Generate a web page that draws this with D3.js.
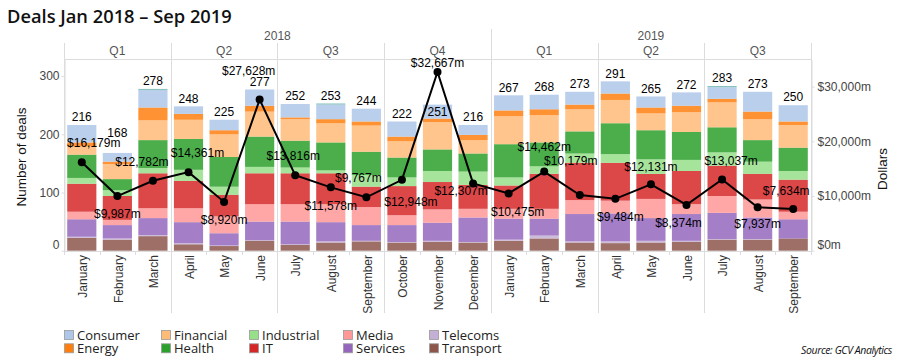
<!DOCTYPE html>
<html><head><meta charset="utf-8">
<script src="https://cdn.jsdelivr.net/npm/d3@7"></script>
<style>
html,body{margin:0;padding:0;background:#fff;}
svg{display:block;}
</style></head>
<body>
<script>
// ---------- DATA ----------
const months = ["January","February","March","April","May","June","July","August","September","October","November","December",
                "January","February","March","April","May","June","July","August","September"];
const years = ["2018","2019"];
const quarters = ["Q1","Q2","Q3","Q4","Q1","Q2","Q3"];
const sectors = ["Transport","Telecoms","Services","Media","IT","Industrial","Health","Financial","Energy","Consumer","Other"];

const transport  = [22,19,25,11,8,17,10,14,16,14,15,14,17,21,14,13,14,15,19,19,21];
const telecoms   = [2,2,2,2,1,1,1,2,1,1,2,1,2,5,2,3,3,2,1,1,0];
const services   = [30,23,29,36,21,32,39,33,27,29,31,42,36,29,47,48,39,46,45,37,33];
const media      = [13,9,17,24,29,30,30,31,31,17,23,15,17,17,24,22,33,17,29,31,13];
const it         = [48,41,60,47,37,53,53,53,35,50,47,41,40,60,64,65,43,57,52,44,55];
const industrial = [10,10,9,19,14,11,10,5,20,15,19,23,14,13,16,15,25,19,23,21,15];
const health     = [40,19,48,53,51,52,46,48,40,34,37,31,57,41,38,53,50,48,43,37,40];
const financial  = [14,26,34,33,39,43,37,33,45,28,47,23,48,47,38,40,29,34,43,36,39];
const energy     = [7,4,22,10,7,10,3,7,7,8,6,9,10,10,8,11,10,11,6,13,6];
const consumer   = [30,15,30,13,18,28,23,25,22,26,24,17,26,25,22,21,19,23,20,34,28];
const other      = [0,0,2,0,0,0,0,2,0,0,0,0,0,0,0,0,0,0,2,0,0];

const dealTotals = [216,168,278,248,225,277,252,253,244,222,251,216,267,268,273,291,265,272,283,273,250];
const dollars = [16179,9987,12782,14361,8920,27628,13816,11578,9767,12948,32667,12307,10475,14462,10179,9484,12131,8374,13037,7937,7634];

const leftTicks = [0,100,200,300];
const rightTicks = [0,10000,20000,30000];

const legendRow1 = ["Consumer","Financial","Industrial","Media","Telecoms"];
const legendRow2 = ["Energy","Health","IT","Services","Transport"];

// ---------- STYLE / PLACEMENT ----------
const colors = {Consumer:"#aec7e8",Energy:"#ff7f0e",Financial:"#ffbb78",Health:"#2ca02c",Industrial:"#98df8a",
  IT:"#d62728",Media:"#ff9896",Services:"#9467bd",Telecoms:"#c5b0d5",Transport:"#8c564b",Other:"#76b7b2"};
// dollar label offsets (label centre relative to point)
const dLabelOff = [[12,-19],[0,18],[-11,-19],[9,-19],[0,18],[-11,-29],[-2,-19],[0,18],[-8,-19],[9,22],[0,-9],[-12,7],
                   [9,18],[0,-25],[-9,-34],[5,18],[0,-18],[-8,18],[9,-19],[0,17],[-7,-18]];
const totalLabelDy = dealTotals.map((d,i)=> i===10 ? 7 : (i===1 ? -20 : -8));

const W=900,H=364;
const L=64,R=811,T=59.5,B=250.7;
const sansA = "'Liberation Sans', Arial, sans-serif";
const sansO = "'Open Sans', 'Noto Sans', sans-serif";
const lineCol = "#dcdcdc";

const svg = d3.select("body").append("svg").attr("width",W).attr("height",H);

const seriesMap = {Transport:transport,Telecoms:telecoms,Services:services,Media:media,IT:it,Industrial:industrial,
  Health:health,Financial:financial,Energy:energy,Consumer:consumer,Other:other};
const rows = months.map((m,i)=>{ const o={idx:i}; sectors.forEach(s=>o[s]=seriesMap[s][i]); return o; });

const x = d3.scaleBand().domain(d3.range(months.length)).range([L,R]).paddingInner(0.18).paddingOuter(0.09);
const y = d3.scaleLinear().domain([0,(B-T)/0.582]).range([B,T]);
const y2 = d3.scaleLinear().domain([0,(B-T)/5.47*1000]).range([B,T]);
const step = x.step();

// Title
svg.append("text").attr("x",7).attr("y",22.5).attr("font-family",sansO).attr("font-weight",600)
  .attr("font-size",18.3).attr("fill","#111").text("Deals Jan 2018 \u2013 Sep 2019");

// Header: years and quarters
const qW = step*3;
const yearStarts = [0,12];
const yearLens = [12,9];
years.forEach((yr,i)=>{
  const x0 = L + yearStarts[i]*step, x1 = x0 + yearLens[i]*step;
  svg.append("text").attr("x",(x0+x1)/2).attr("y",36).attr("dy","0.35em").attr("text-anchor","middle")
    .attr("font-family",sansA).attr("font-size",12).attr("fill","#555").text(yr);
});
quarters.forEach((q,i)=>{
  const x0 = L + i*qW;
  svg.append("text").attr("x",x0+qW/2).attr("y",50.5).attr("dy","0.35em").attr("text-anchor","middle")
    .attr("font-family",sansA).attr("font-size",12).attr("fill","#555").text(q);
});
// separator lines
const g0 = svg.append("g").attr("stroke",lineCol).attr("stroke-width",1).attr("shape-rendering","crispEdges");
for(let i=0;i<=quarters.length;i++){
  const xx = Math.round(L + i*qW)+0.5;
  const top = (i===4)?29:43;
  const bot = (i===0||i===quarters.length)?B:313;
  g0.append("line").attr("x1",xx).attr("x2",xx).attr("y1",top).attr("y2",bot);
}
g0.append("line").attr("x1",L).attr("x2",R+1).attr("y1",59.5).attr("y2",59.5);

// Bars
const stack = d3.stack().keys(sectors)(rows);
svg.append("g").selectAll("g").data(stack).join("g")
  .attr("fill",d=>colors[d.key]).attr("fill-opacity",0.85)
  .selectAll("rect").data(d=>d).join("rect")
  .attr("x",(d,i)=>x(i)).attr("width",x.bandwidth())
  .attr("y",d=>y(d[1])).attr("height",d=>Math.max(0,y(d[0])-y(d[1])));

// Total labels
svg.append("g").selectAll("text").data(dealTotals).join("text")
  .attr("x",(d,i)=>x(i)+x.bandwidth()/2)
  .attr("y",(d,i)=>y(d3.sum(sectors,s=>seriesMap[s][i]))+totalLabelDy[i])
  .attr("dy","0.35em").attr("text-anchor","middle").attr("font-family",sansA).attr("font-size",12)
  .attr("fill","#000").text(d=>d);

// Line
const line = d3.line().x((d,i)=>x(i)+x.bandwidth()/2).y(d=>y2(d));
svg.append("path").datum(dollars).attr("d",line).attr("fill","none").attr("stroke","#000").attr("stroke-width",2);
svg.append("g").selectAll("circle").data(dollars).join("circle")
  .attr("cx",(d,i)=>x(i)+x.bandwidth()/2).attr("cy",d=>y2(d)).attr("r",4).attr("fill","#000");
svg.append("g").selectAll("text").data(dollars).join("text")
  .attr("x",(d,i)=>x(i)+x.bandwidth()/2+dLabelOff[i][0])
  .attr("y",(d,i)=>y2(d)+dLabelOff[i][1]).attr("dy","0.35em").attr("text-anchor","middle")
  .attr("font-family",sansA).attr("font-size",12).attr("fill","#000")
  .text(d=>"$"+d3.format(",")(d)+"m");

// Left axis
const ax = svg.append("g").attr("transform",`translate(${L+0.5},0)`)
  .call(d3.axisLeft(y).tickValues(leftTicks).tickSize(3).tickPadding(2).tickSizeOuter(0));
ax.select(".domain").attr("stroke",lineCol);
ax.selectAll(".tick line").attr("stroke",lineCol);
ax.selectAll(".tick text").attr("font-family",sansA).attr("font-size",12).attr("fill","#444")
  .attr("dy",(d)=> d===0 ? "-0.2em":"0.32em");
// Right axis
const ax2 = svg.append("g").attr("transform",`translate(${R+0.5},0)`)
  .call(d3.axisRight(y2).tickValues(rightTicks).tickSize(3).tickPadding(3).tickSizeOuter(0)
    .tickFormat(d=>"$"+d3.format(",")(d)+"m"));
ax2.select(".domain").attr("stroke",lineCol);
ax2.selectAll(".tick line").attr("stroke",lineCol);
ax2.selectAll(".tick text").attr("font-family",sansA).attr("font-size",12).attr("fill","#444")
  .attr("dy",(d)=> d===0 ? "-0.2em":"0.32em");

// Bottom axis line + ticks
const gb = svg.append("g").attr("stroke",lineCol).attr("shape-rendering","crispEdges");
gb.append("line").attr("x1",L).attr("x2",R+1).attr("y1",251.5).attr("y2",251.5);
gb.selectAll("line.tk").data(d3.range(months.length+1)).join("line").attr("class","tk")
  .attr("x1",i=>Math.round(L+i*step)+0.5).attr("x2",i=>Math.round(L+i*step)+0.5).attr("y1",251).attr("y2",255);

// Month labels
svg.append("g").selectAll("text").data(months).join("text")
  .attr("transform",(d,i)=>`translate(${x(i)+x.bandwidth()/2+1},255) rotate(-90)`)
  .attr("text-anchor","end").attr("dy","0.35em").attr("font-family",sansA).attr("font-size",12)
  .attr("fill","#333").text(d=>d);

// Axis titles
svg.append("text").attr("transform","translate(21,157) rotate(-90)").attr("text-anchor","middle").attr("dy","0.35em")
  .attr("font-family",sansA).attr("font-size",13.5).attr("fill","#111").text("Number of deals");
svg.append("text").attr("transform","translate(882,169) rotate(-90)").attr("text-anchor","middle").attr("dy","0.35em")
  .attr("font-family",sansA).attr("font-size",13.5).attr("fill","#111").text("Dollars");

// Legend
const legX = [64,161,249,343,429];
[legendRow1,legendRow2].forEach((row,r)=>{
  const cy = r===0?335:348.3;
  row.forEach((name,i)=>{
    svg.append("rect").attr("x",legX[i]+0.5).attr("y",cy-4.5).attr("width",9).attr("height",9)
      .attr("fill",colors[name]).attr("stroke","#999").attr("stroke-width",0.8);
    svg.append("text").attr("x",legX[i]+13).attr("y",cy).attr("dy","0.35em")
      .attr("font-family",sansO).attr("font-size",13).attr("fill","#222").text(name);
  });
});

// Source
svg.append("text").attr("x",892).attr("y",350).attr("dy","0.35em").attr("text-anchor","end")
  .attr("font-family",sansO).attr("font-style","italic").attr("font-size",10.5).attr("letter-spacing",-0.4)
  .attr("fill","#111").text("Source: GCV Analytics");
</script>
</body></html>
